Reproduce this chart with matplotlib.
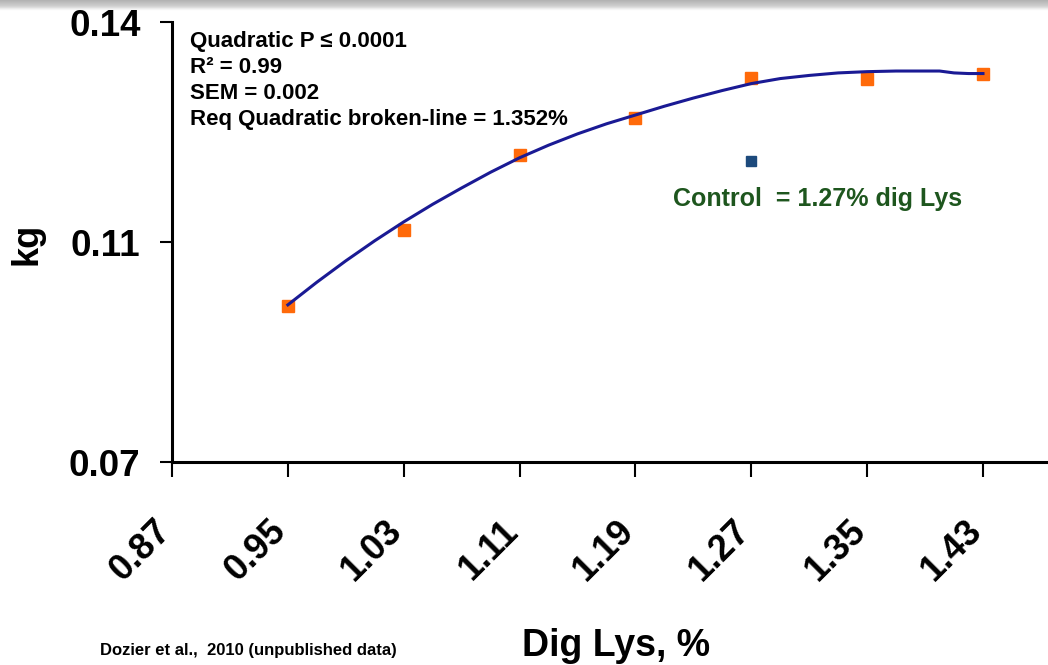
import numpy as np
import matplotlib
matplotlib.use('Agg')
import matplotlib.pyplot as plt
import matplotlib.transforms as mtransforms
from matplotlib import font_manager

# ---- data ----
dig_lys = [0.95, 1.03, 1.11, 1.19, 1.27, 1.35, 1.43]
weight_kg = [0.0948, 0.1069, 0.1188, 0.1247, 0.1311, 0.1309, 0.1317]
control_x = [1.27]
control_y = [0.1179]
fit_x = [0.95, 0.97, 0.99, 1.01, 1.03, 1.05, 1.07, 1.09, 1.11, 1.13, 1.15, 1.17,
         1.19, 1.21, 1.23, 1.25, 1.27, 1.29, 1.31, 1.33, 1.35, 1.37, 1.39, 1.40,
         1.41, 1.42, 1.43]
fit_y = [0.0950, 0.0986, 0.1020, 0.1052, 0.1082, 0.1110, 0.1136, 0.1161, 0.1184,
         0.1204, 0.1222, 0.1238, 0.1252, 0.1266, 0.1279, 0.1291, 0.1302, 0.1310,
         0.1315, 0.1319, 0.1321, 0.1322, 0.1322, 0.1322, 0.1319, 0.1318, 0.1318]
x_ticks = [0.87, 0.95, 1.03, 1.11, 1.19, 1.27, 1.35, 1.43]
x_tick_labels = ['0.87', '0.95', '1.03', '1.11', '1.19', '1.27', '1.35', '1.43']
y_ticks = [0.07, 0.105, 0.14]
y_tick_labels = ['0.07', '0.11', '0.14']
stats_lines = ['Quadratic P \u2264 0.0001', 'R\u00b2 = 0.99', 'SEM = 0.002',
               'Req Quadratic broken-line = 1.352%']
control_text = 'Control  = 1.27% dig Lys'
source_text = 'Dozier et al.,  2010 (unpublished data)'

FONT = 'Liberation Sans'
names = {f.name for f in font_manager.fontManager.ttflist}
NARROW = 'Liberation Sans Narrow' if 'Liberation Sans Narrow' in names else FONT
ytick_size = 29 if NARROW != FONT else 26.5

W, H = 1048, 665
fig = plt.figure(figsize=(W / 100, H / 100), dpi=100)
fig.patch.set_facecolor('white')

# top grey band (slide edge)
band = fig.add_axes([0, 1 - 12 / H, 1, 12 / H])
grad = np.array([0.70, 0.72, 0.74, 0.76, 0.78, 0.80, 0.83, 0.87, 0.92, 0.96, 0.99, 1.0])
band.imshow(np.repeat(grad[:, None], 10, axis=1), cmap='gray', vmin=0, vmax=1,
            aspect='auto', interpolation='bilinear')
band.axis('off')

ax = fig.add_axes([172 / W, (H - 462) / H, (W - 172) / W, 440 / H])
ax.set_xlim(0.87, 1.4749)
ax.set_ylim(0.07, 0.14)

ax.plot(fit_x, fit_y, color='#1a1a94', lw=2.2, zorder=3)
ax.plot(dig_lys, weight_kg, ls='none', marker='s', ms=8, color='#ff6a0a',
        mec='#ff6a0a', zorder=2)
ax.plot(control_x, control_y, ls='none', marker='s', ms=6.5, color='#1d4a7c', zorder=2)

for s in ['top', 'right']:
    ax.spines[s].set_visible(False)
for s in ['left', 'bottom']:
    ax.spines[s].set_linewidth(2.2)
    ax.spines[s].set_color('black')

ax.set_xticks(x_ticks)
ax.set_xticklabels(x_tick_labels, rotation=45, ha='right', rotation_mode='anchor',
                   fontsize=26, fontweight='bold', family=FONT)
ax.set_yticks(y_ticks)
ax.set_yticklabels(y_tick_labels, fontsize=ytick_size, fontweight='bold', family=NARROW)
ax.tick_params(axis='x', direction='out', length=11, width=1.5, pad=26)
ax.tick_params(axis='y', direction='out', length=8.6, width=1.5, pad=14)
off = mtransforms.ScaledTranslation(-0.19, 0, fig.dpi_scale_trans)
for lab in ax.get_xticklabels():
    lab.set_transform(lab.get_transform() + off)

# axis titles
fig.text(616 / W, (H - 656) / H, 'Dig Lys, %', ha='center', va='baseline',
         fontsize=27, fontweight='bold', family=FONT)
fig.text(27 / W, (H - 244) / H, 'kg', ha='center', va='center', rotation=90,
         fontsize=26, fontweight='bold', family=FONT)

# stats annotation
for i, line in enumerate(stats_lines):
    fig.text(190 / W, (H - (47 + 26 * i)) / H, line, ha='left', va='baseline',
             fontsize=16, fontweight='bold', family=FONT, color='black')

fig.text(673 / W, (H - 199) / H, control_text, ha='left', va='center',
         fontsize=18, fontweight='bold', family=FONT, color='#1e561e')
fig.text(100 / W, (H - 655) / H, source_text, ha='left', va='baseline',
         fontsize=12, fontweight='bold', family=FONT, color='black')

fig.savefig('out.png', dpi=100)
